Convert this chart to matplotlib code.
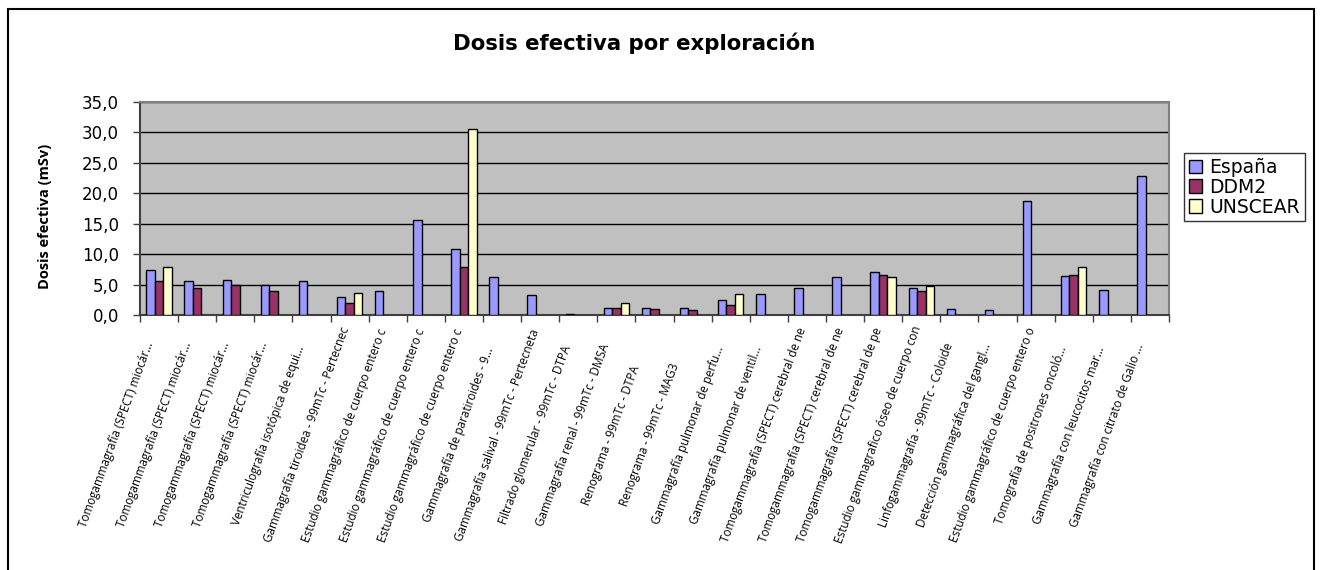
import numpy as np
import matplotlib.pyplot as plt
from matplotlib.patches import Rectangle

categorias = [
    "Tomogammagrafía (SPECT) miocár...",
    "Tomogammagrafía (SPECT) miocár...",
    "Tomogammagrafía (SPECT) miocár...",
    "Tomogammagrafía (SPECT) miocár...",
    "Ventriculografía isotópica de equi...",
    "Gammagrafía tiroidea - 99mTc - Pertecnec",
    "Estudio gammagráfico de cuerpo entero c",
    "Estudio gammagráfico de cuerpo entero c",
    "Estudio gammagráfico de cuerpo entero c",
    "Gammagrafía de paratiroides - 9...",
    "Gammagrafía salival - 99mTc - Pertecneta",
    "Filtrado glomerular - 99mTc - DTPA",
    "Gammagrafía renal - 99mTc - DMSA",
    "Renograma - 99mTc - DTPA",
    "Renograma - 99mTc - MAG3",
    "Gammagrafía pulmonar de perfu...",
    "Gammagrafía pulmonar de ventil...",
    "Tomogammagrafía (SPECT) cerebral de ne",
    "Tomogammagrafía (SPECT) cerebral de ne",
    "Tomogammagrafía (SPECT) cerebral de pe",
    "Estudio gammagrafico óseo de cuerpo con",
    "Linfogammagrafía - 99mTc - Coloide",
    "Detección gammagráfica del gangl...",
    "Estudio gammagráfico de cuerpo entero o",
    "Tomografía de positrones oncoló...",
    "Gammagrafía con leucocitos mar...",
    "Gammagrafía con citrato de Galio ...",
]

nan = np.nan
espana = [7.4, 5.6, 5.8, 5.0, 5.6, 2.9, 4.0, 15.6, 10.8, 6.3, 3.3, 0.2, 1.2, 1.2, 1.2,
          2.4, 3.5, 4.5, 6.2, 7.0, 4.5, 1.0, 0.8, 18.7, 6.4, 4.1, 22.9]
ddm2 = [5.6, 4.5, 4.9, 3.9, nan, 1.9, nan, nan, 7.9, nan, nan, nan, 1.2, 1.0, 0.8,
        1.7, nan, nan, nan, 6.5, 3.9, nan, nan, nan, 6.5, nan, nan]
unscear = [7.9, nan, nan, nan, nan, 3.6, nan, nan, 30.5, nan, nan, nan, 1.9, nan, nan,
           3.5, nan, nan, nan, 6.2, 4.8, nan, nan, nan, 7.9, nan, nan]

series = [("España", espana, "#9999FF"),
          ("DDM2", ddm2, "#993366"),
          ("UNSCEAR", unscear, "#FFFFCC")]

fig = plt.figure(figsize=(13.2, 5.7), dpi=100)
ax = fig.add_axes([140/1320, 1-315/570, (1169-140)/1320, (315-102)/570])
ax.set_facecolor("#C0C0C0")

x = np.arange(len(categorias))
w = 1/4.5
for k, (nombre, vals, col) in enumerate(series):
    ax.bar(x + (k-1)*w, vals, width=w, color=col, edgecolor="black",
           linewidth=1.0, label=nombre, zorder=3)

ax.set_xlim(-0.5, len(categorias)-0.5)
ax.set_ylim(0, 35)
ax.set_yticks(np.arange(0, 36, 5))
ax.set_yticklabels([f"{v:.1f}".replace(".", ",") for v in np.arange(0, 36, 5)],
                   fontsize=12, family="DejaVu Sans")
ax.yaxis.grid(True, color="black", linewidth=1.0, zorder=1)
ax.set_axisbelow(True)
ax.set_xticks(np.arange(len(categorias)+1) - 0.5)
ax.set_xticklabels([])
ax.tick_params(axis="both", direction="out", length=5, color="#404040", width=1)
ax.tick_params(axis="y", pad=10)

for s in ["top", "right"]:
    ax.spines[s].set_color("#808080")
    ax.spines[s].set_linewidth(1.5)
for s in ["left", "bottom"]:
    ax.spines[s].set_color("#404040")
    ax.spines[s].set_linewidth(1.5)

for i, lab in enumerate(categorias):
    ax.annotate(lab, xy=(i, 0), xycoords="data", xytext=(-43, -120),
                textcoords="offset pixels", rotation=70, rotation_mode="anchor",
                ha="center", va="center", fontsize=8.4, family="Open Sans",
                fontstyle="normal", annotation_clip=False)

fig.text(634/1320, 1-43/570, "Dosis efectiva por exploración", ha="center",
         va="center", fontsize=15.3, fontweight="bold", family="DejaVu Sans")
fig.text(45/1320, 1-216/570, "Dosis efectiva (mSv)", ha="center", va="center",
         rotation=90, fontsize=10.5, fontweight="bold", family="Open Sans")

leg = ax.legend(loc="upper left", bbox_to_anchor=(1184/1320, 1-153/570),
                bbox_transform=fig.transFigure, fancybox=False, frameon=True,
                prop={"family": "DejaVu Sans", "size": 13.5}, handlelength=0.7,
                handleheight=0.7, handletextpad=0.4, labelspacing=0.05,
                borderpad=0.25, borderaxespad=0)
leg.get_frame().set_edgecolor("black")
leg.get_frame().set_linewidth(1.0)

fig.patches.append(Rectangle((8/1320, -0.05), (1314-8)/1320, 1.05-9/570,
                             transform=fig.transFigure, fill=False,
                             edgecolor="black", linewidth=1.5))

fig.savefig("out.png", dpi=100)
